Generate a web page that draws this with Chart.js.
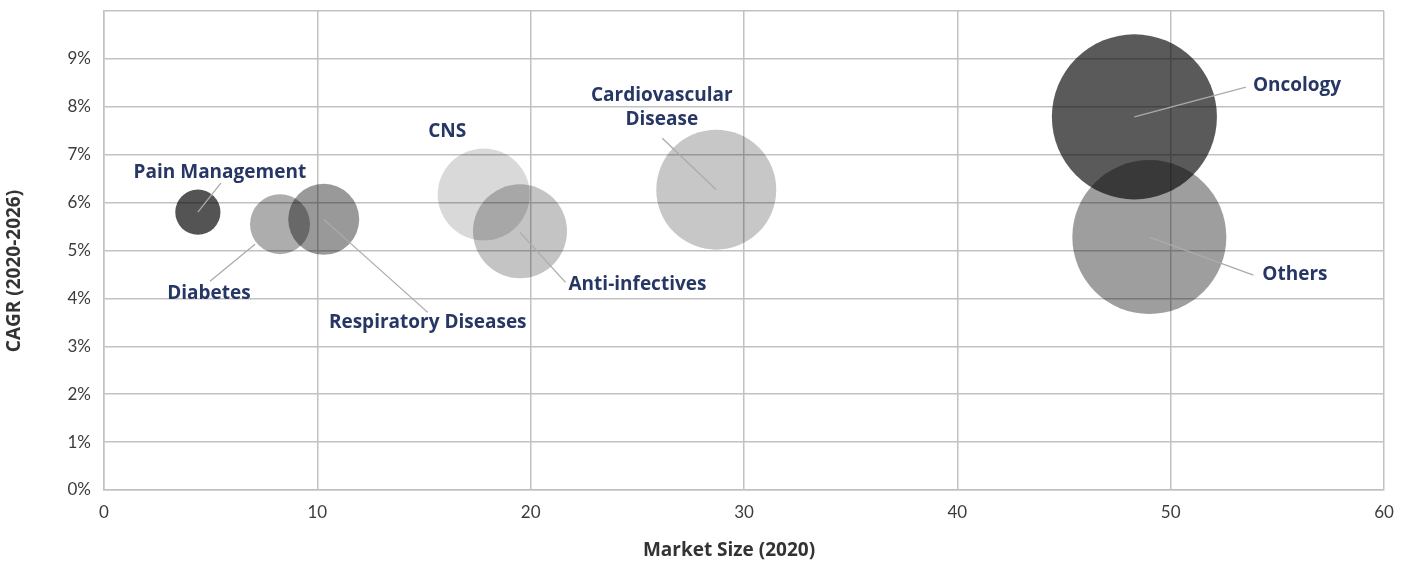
<!DOCTYPE html>
<html>
<head>
<meta charset="utf-8">
<script src="https://cdn.jsdelivr.net/npm/chart.js@4"></script>
<style>
  html, body { margin: 0; padding: 0; background: #fff; }
  #wrap { width: 1412px; height: 563px; position: relative; }
</style>
</head>
<body>
<div id="wrap"><canvas id="myChart"></canvas></div>
<script>
// therapy areas, drawn in this order (Oncology last so it sits on top of Others)
const categories = ["Pain Management", "Diabetes", "Respiratory Diseases", "CNS", "Anti-infectives", "Cardiovascular Disease", "Others", "Oncology"];
const marketSize = [4.4, 8.25, 10.3, 17.8, 19.5, 28.7, 49.0, 48.3];
const cagr = [5.8, 5.55, 5.65, 6.17, 5.4, 6.27, 5.28, 7.79];
const bubbleSize = [5.1, 9.0, 12.6, 21.2, 22.1, 36.0, 59.3, 68.1];
const xTicks = [0, 10, 20, 30, 40, 50, 60];
const yTicks = [0, 1, 2, 3, 4, 5, 6, 7, 8, 9];
const xTitle = "Market Size (2020)";
const yTitle = "CAGR (2020-2026)";

const fills = [
  "rgba(0,0,0,0.67)",
  "rgba(0,0,0,0.32)",
  "rgba(0,0,0,0.40)",
  "rgba(0,0,0,0.15)",
  "rgba(0,0,0,0.23)",
  "rgba(0,0,0,0.22)",
  "rgba(0,0,0,0.38)",
  "rgba(5,5,5,0.66)",
];

// label placement, pixel offsets from bubble centre
const labelStyle = {
  "Pain Management": { lines: ["Pain Management"], dx: 22, dy: -40, align: "center", from: [0, 0], to: [23, -29] },
  "Diabetes": { lines: ["Diabetes"], dx: -71, dy: 69, align: "center", from: [-25, 20], to: [-70, 57] },
  "Respiratory Diseases": { lines: ["Respiratory Diseases"], dx: 104, dy: 103.5, align: "center", from: [0, 0], to: [104, 93] },
  "CNS": { lines: ["CNS"], dx: -36.5, dy: -62.5, align: "center", from: null },
  "Anti-infectives": { lines: ["Anti-infectives"], dx: 48.5, dy: 53, align: "left", from: [0, 1], to: [45.5, 51] },
  "Cardiovascular Disease": { lines: ["Cardiovascular", "Disease"], dx: -54.5, dy: -94.5, align: "center", from: [0, 0], to: [-54, -51.5] },
  "Others": { lines: ["Others"], dx: 113, dy: 38, align: "left", from: [0, 0], to: [104, 38] },
  "Oncology": { lines: ["Oncology"], dx: 118.5, dy: -31.7, align: "left", from: [0, 0], to: [111.5, -29.7] },
};

const bubbleLabels = {
  id: "bubbleLabels",
  afterDatasetsDraw(chart) {
    const ctx = chart.ctx;
    const meta = chart.getDatasetMeta(0);
    ctx.save();
    meta.data.forEach((pt, i) => {
      const st = labelStyle[categories[i]];
      if (st.from) {
        ctx.strokeStyle = "#ababab";
        ctx.lineWidth = 1.3;
        ctx.beginPath();
        ctx.moveTo(pt.x + st.from[0], pt.y + st.from[1]);
        ctx.lineTo(pt.x + st.to[0], pt.y + st.to[1]);
        ctx.stroke();
      }
      ctx.fillStyle = "#263766";
      ctx.font = "bold 19px 'Open Sans'";
      ctx.textAlign = st.align;
      ctx.textBaseline = "middle";
      st.lines.forEach((ln, k) => {
        ctx.fillText(ln, pt.x + st.dx, pt.y + st.dy + k * 24);
      });
    });

    // axis titles
    ctx.fillStyle = "#333";
    ctx.font = "bold 19px 'Open Sans'";
    ctx.textAlign = "center";
    ctx.textBaseline = "middle";
    ctx.fillText(xTitle, 729, 551);
    ctx.translate(15, 271);
    ctx.rotate(-Math.PI / 2);
    ctx.fillText(yTitle, 0, 0);
    ctx.restore();
  },
};

const data = categories.map((c, i) => ({
  x: marketSize[i],
  y: cagr[i],
  r: Math.sqrt(bubbleSize[i]) * 10,
}));

const tickFont = { family: "Lato", size: 17 };

new Chart(document.getElementById("myChart"), {
  type: "bubble",
  data: {
    datasets: [{
      data: data,
      backgroundColor: fills,
      borderWidth: 0,
      hoverBorderWidth: 0,
    }],
  },
  options: {
    responsive: true,
    maintainAspectRatio: false,
    animation: false,
    layout: { autoPadding: false, padding: { left: 0, right: 28, top: 11, bottom: 0 } },
    plugins: {
      legend: { display: false },
      tooltip: { enabled: false },
    },
    scales: {
      x: {
        type: "linear",
        min: 0,
        max: 60,
        afterBuildTicks: (s) => { s.ticks = xTicks.map((v) => ({ value: v })); },
        afterFit: (s) => { s.height = 73; },
        grid: { color: "#c2c2c2", lineWidth: 1.5, drawTicks: false },
        border: { color: "#c2c2c2", width: 1.5 },
        ticks: { color: "#3c3c3c", font: tickFont, padding: 12 },
      },
      y: {
        type: "linear",
        min: 0,
        max: 10,
        afterBuildTicks: (s) => { s.ticks = yTicks.concat([10]).map((v) => ({ value: v })); },
        afterFit: (s) => { s.width = 104; s.paddingTop = 0; s.paddingBottom = 0; },
        grid: { color: "#c2c2c2", lineWidth: 1.5, drawTicks: false },
        border: { color: "#c2c2c2", width: 1.5 },
        ticks: {
          color: "#3c3c3c",
          font: tickFont,
          padding: 13,
          callback: (v) => (yTicks.includes(v) ? v + "%" : ""),
        },
      },
    },
  },
  plugins: [bubbleLabels],
});
</script>
</body>
</html>
